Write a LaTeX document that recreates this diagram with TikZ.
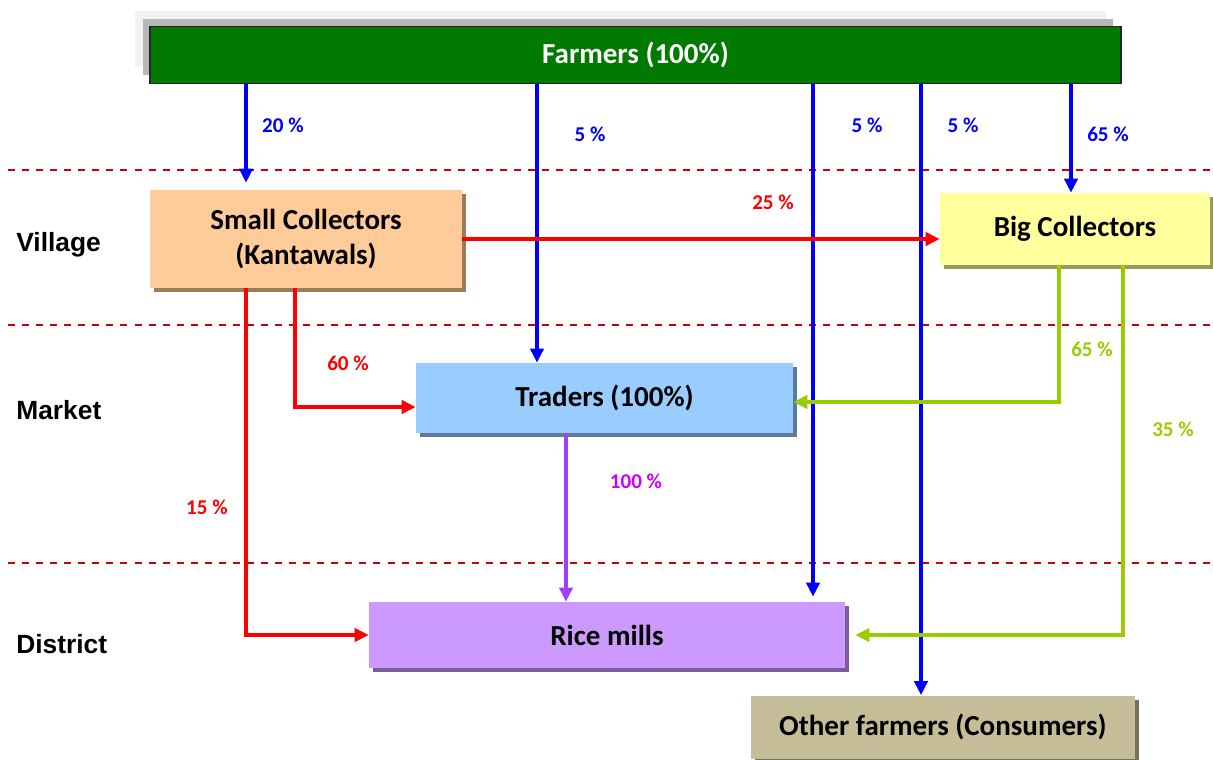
\documentclass[tikz,border=0pt]{standalone}
\usepackage{fontspec}
\setmainfont{Carlito}
\newfontfamily\arialfont{Liberation Sans}
\usetikzlibrary{arrows.meta,shadows}

\definecolor{farmgreen}{HTML}{007A00}
\definecolor{peach}{HTML}{FFCC99}
\definecolor{peachdark}{HTML}{9E7B58}
\definecolor{lemon}{HTML}{FFFF9E}
\definecolor{lemondark}{HTML}{9A9A5C}
\definecolor{skyblue}{HTML}{99CCFF}
\definecolor{skydark}{HTML}{5B7B99}
\definecolor{lilac}{HTML}{CC99FF}
\definecolor{lilacdark}{HTML}{7B5C9B}
\definecolor{khaki}{HTML}{C4BD97}
\definecolor{khakidark}{HTML}{767157}
\definecolor{limeline}{HTML}{99CC00}
\definecolor{violetline}{HTML}{A040FF}
\definecolor{magentatxt}{HTML}{CC00FF}
\definecolor{levelred}{HTML}{CC0000}

\tikzset{
  box/.style={rectangle, inner sep=0pt, font=\fontsize{16.5}{20}\selectfont\bfseries, align=center},
  boxshadow/.style={general shadow={fill=#1, shadow xshift=0.08cm, shadow yshift=-0.08cm}},
  pct/.style={font=\fontsize{12}{14}\selectfont\bfseries, text=#1},
  flow/.style={line width=2pt, draw=#1, -{Triangle[length=8pt,width=7.5pt]}},
  level/.style={font=\arialfont\fontsize{15}{18}\selectfont\bfseries, anchor=west, inner sep=0pt}
}

\begin{document}
\begin{tikzpicture}[x=0.02cm, y=-0.02cm, line join=miter]
	\useasboundingbox (0,0) rectangle (1213,760);
	%% lanes of the vertical flows
	\path
	(246,0) coordinate (l1)
	(295,0) coordinate (l2)
	(537,0) coordinate (l3)
	(566,0) coordinate (l4)
	(813,0) coordinate (l5)
	(921,0) coordinate (l6)
	(1059,0) coordinate (l7)
	(1071,0) coordinate (l8)
	(1123,0) coordinate (l9)
	;
	
	%% level separators and level names
	\foreach \y in {170,325,563}
	\draw[levelred, line width=0.9pt, dash pattern=on 4pt off 4pt] (8,\y)--(1213,\y);
	\foreach \t/\y in {Village/245,Market/410,District/644}
	\node[level] (\t) at (16,\y) {\t};
	
	%% actors
	\node[box, fill=farmgreen, draw=black!85, line width=1pt, text=white,
	  minimum width=19.42cm, minimum height=1.14cm,
	  general shadow={fill=black!5, shadow xshift=-0.3cm, shadow yshift=0.32cm},
	  general shadow={fill=black!28, shadow xshift=-0.15cm, shadow yshift=0.16cm}]
	  (farmers) at (635.5,55) {Farmers (100\%)};
	\node[box, fill=peach, boxshadow=peachdark, minimum width=6.24cm, minimum height=1.96cm]
	  (small) at (306,239) {Small Collectors\\(Kantawals)};
	\node[box, fill=lemon, boxshadow=lemondark, minimum width=5.4cm, minimum height=1.44cm]
	  (big) at (1075,229) {Big Collectors};
	\node[box, fill=skyblue, boxshadow=skydark, minimum width=7.54cm, minimum height=1.4cm]
	  (traders) at (604.5,398) {Traders (100\%)};
	\node[box, fill=lilac, boxshadow=lilacdark, minimum width=9.52cm, minimum height=1.32cm]
	  (rice) at (607,635) {Rice mills};
	\node[box, fill=khaki, boxshadow=khakidark, minimum width=7.68cm, minimum height=1.26cm]
	  (other) at (943,727) {Other farmers (Consumers)};
	
	%% flows out of the farmers
	\draw[flow=blue] (farmers.south -| l1) -- ([yshift=0.14cm]small.north -| l1);
	\draw[flow=blue] (farmers.south -| l3) -- (traders.north -| l3);
	\draw[flow=blue] (farmers.south -| l5) -- ([yshift=0.1cm]rice.north -| l5);
	\draw[flow=blue] (farmers.south -| l6) -- (other.north -| l6);
	\draw[flow=blue] (farmers.south -| l8) -- (big.north -| l8);
	
	%% collectors
	\draw[flow=red] (small.east) -- (small.east -| big.west);
	\draw[flow=red] (small.south -| l2) |- ([yshift=-0.18cm]traders.west);
	\draw[flow=red] (small.south -| l1) |- (rice.west);
	\draw[flow=limeline] (big.south -| l7) |- ([yshift=-0.08cm]traders.east);
	\draw[flow=limeline] (big.south -| l9) |- ([xshift=0.2cm]rice.east);
	\draw[flow=violetline] (traders.south -| l4) -- (rice.north -| l4);
	
	%% shares
	\node[pct=blue] (p20) at (283,125) {20 \%};
	\node[pct=blue] (p5a) at (590,134) {5 \%};
	\node[pct=blue] (p5b) at (867,125) {5 \%};
	\node[pct=blue] (p5c) at (963,125) {5 \%};
	\node[pct=blue] (p65a) at (1108,134) {65 \%};
	\node[pct=red] (p25) at (773,202) {25 \%};
	\node[pct=red] (p60) at (348,363) {60 \%};
	\node[pct=red] (p15) at (207,507) {15 \%};
	\node[pct=limeline] (p65b) at (1092,349) {65 \%};
	\node[pct=limeline] (p35) at (1173,429) {35 \%};
	\node[pct=magentatxt] (p100) at (636,481) {100 \%};
\end{tikzpicture}
\end{document}
